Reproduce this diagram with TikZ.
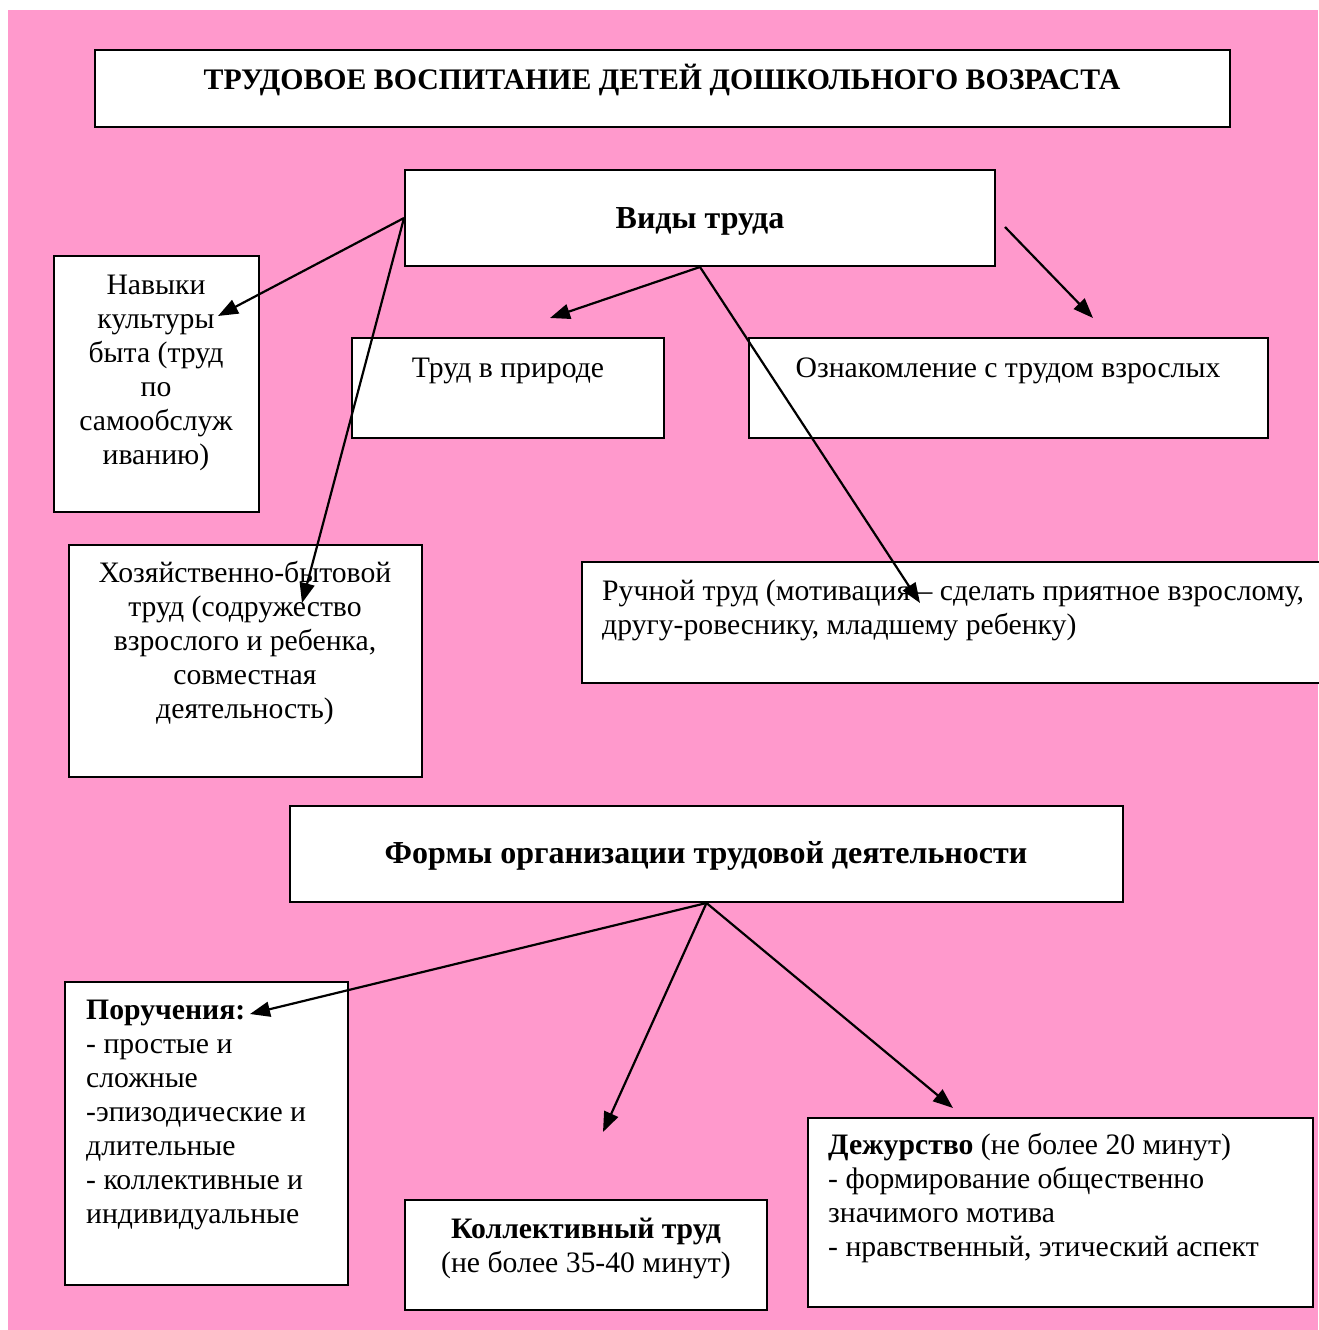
\documentclass[tikz,border=0pt]{standalone}
\usepackage{fontspec}
\setmainfont{Liberation Serif}
\usetikzlibrary{arrows.meta}
\definecolor{bgpink}{HTML}{FF99CC}
\tikzset{
  box/.style={draw=black, line width=2pt, fill=white, rectangle, inner sep=0pt},
  txt/.style={anchor=base, inner sep=0pt, font=\fontsize{29.7}{34}\selectfont},
  btxt/.style={anchor=base, inner sep=0pt, font=\fontsize{32}{36}\selectfont\bfseries},
  arr/.style={line width=2.2pt, -{Triangle[length=20pt,width=15pt]}}
}
\newcommand{\boxat}[5]{\node[box, minimum width=#4-#2, minimum height=#5-#3] (#1) at ({(#2+#4)/2},{(#3+#5)/2}) {};}
\begin{document}
\begin{tikzpicture}[x=1pt,y=-1pt]
\useasboundingbox (0,0) rectangle (1318,1330);
\fill[white] (0,0) rectangle (1318,1330);
\fill[bgpink] (8,10) rectangle (1318,1330);
% boxes
\boxat{title}{95}{50}{1230}{127}
\boxat{vidy}{405}{170}{995}{266}
\boxat{navyki}{54}{256}{259}{512}
\boxat{priroda}{352}{338}{664}{438}
\boxat{vzrosl}{749}{338}{1268}{438}
\boxat{hoz}{69}{545}{422}{777}
\boxat{ruchn}{582}{562}{1330}{683}
\boxat{formy}{290}{806}{1123}{902}
\boxat{poruch}{65}{982}{348}{1285}
\boxat{koll}{405}{1200}{767}{1310}
\boxat{dezh}{808}{1118}{1313}{1307}
% texts
\node[btxt, font=\fontsize{29.8}{34}\selectfont\bfseries] (t1) at (662,89) {ТРУДОВОЕ ВОСПИТАНИЕ ДЕТЕЙ ДОШКОЛЬНОГО ВОЗРАСТА};
\node[btxt] (t2) at (700,228) {Виды труда};
\node[txt, align=center] (t3) at (156,464) {Навыки\\культуры\\быта (труд\\по\\самообслуж\\иванию)};
\node[txt] (t4) at (508,377) {Труд в природе};
\node[txt] (t5) at (1008,377) {Ознакомление с трудом взрослых};
\node[txt, align=center] (t6) at (245,718) {Хозяйственно-бытовой\\труд (содружество\\взрослого и ребенка,\\совместная\\деятельность)};
\node[txt, align=left, anchor=base west] (t7) at (602,634) {Ручной труд (мотивация – сделать приятное взрослому,\\другу-ровеснику, младшему ребенку)};
\node[btxt] (t8) at (706,863) {Формы организации трудовой деятельности};
\node[txt, align=left, anchor=base west] (t9) at (86,1223) {\textbf{Поручения:}\\- простые и\\сложные\\-эпизодические и\\длительные\\- коллективные и\\индивидуальные};
\node[txt, align=center] (t10) at (586,1272) {\textbf{Коллективный труд}\\(не более 35-40 минут)};
\node[txt, align=left, anchor=base west] (t11) at (828,1256) {\textbf{Дежурство} (не более 20 минут)\\- формирование общественно\\значимого мотива\\- нравственный, этический аспект};
% arrow end points
\coordinate (e1) at (218,316);
\coordinate (e2) at (302,603);
\coordinate (e3) at (550,318);
\coordinate (e4) at (920,603);
\coordinate (s5) at (1005,227);
\coordinate (e5) at (1093,318);
\coordinate (e6) at (250,1014);
\coordinate (e7) at (603,1132);
\coordinate (e8) at (953,1108);
% arrows
\draw[arr] (vidy.west) -- (e1);
\draw[arr] (vidy.west) -- (e2);
\draw[arr] (vidy.south) -- (e3);
\draw[arr] (vidy.south) -- (e4);
\draw[arr] (s5) -- (e5);
\draw[arr] (formy.south) -- (e6);
\draw[arr] (formy.south) -- (e7);
\draw[arr] (formy.south) -- (e8);
\end{tikzpicture}
\end{document}
